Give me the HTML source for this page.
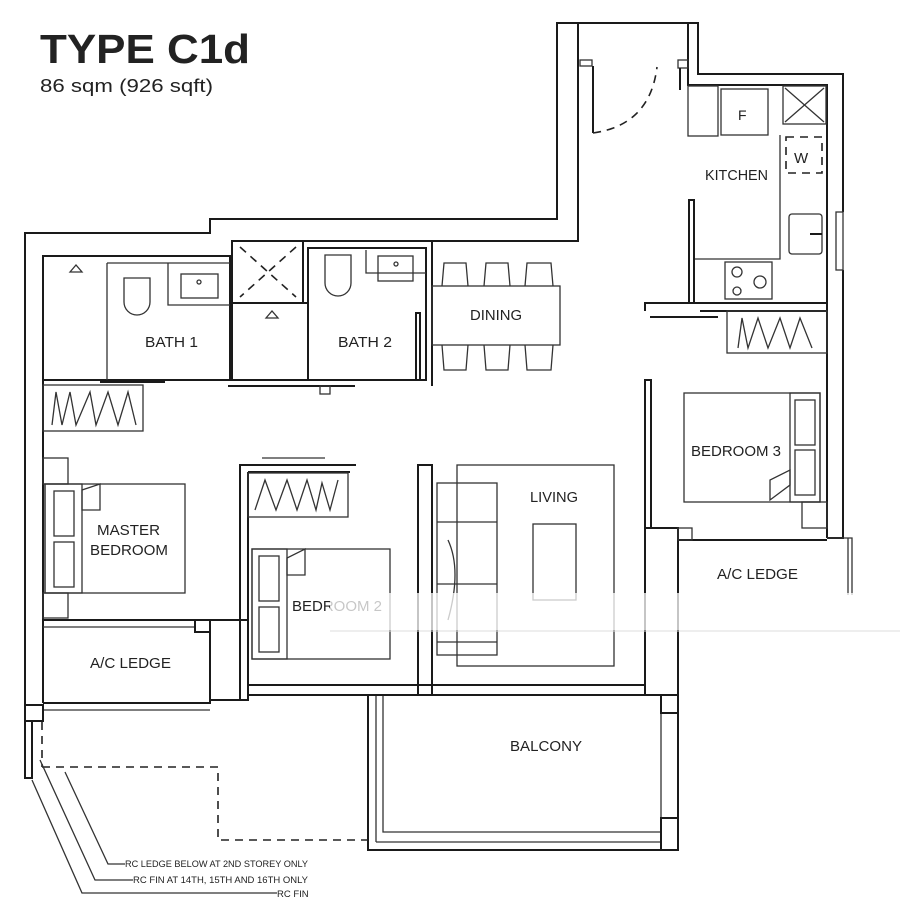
<!DOCTYPE html>
<html><head><meta charset="utf-8"><style>
html,body{margin:0;padding:0;background:#fff;}
svg{display:block}
.l{fill:none;stroke:#1a1a1a;stroke-width:2}
.t{fill:none;stroke:#333;stroke-width:1.3}
.d{fill:none;stroke:#222;stroke-width:1.6;stroke-dasharray:8 6}
text{font-family:"Liberation Sans",sans-serif;fill:#222}
.lb{font-size:15px}
.sm{font-size:9.5px}
</style></head><body>
<svg width="900" height="900" viewBox="0 0 900 900">
<text x="40" y="63" font-size="41" font-weight="bold" fill="#111" textLength="210" lengthAdjust="spacingAndGlyphs">TYPE C1d</text>
<text x="40" y="92" font-size="18" textLength="173" lengthAdjust="spacingAndGlyphs">86 sqm (926 sqft)</text>

<!-- outer walls -->
<polyline class="l" points="25,705 25,233 210,233 210,219 557,219 557,23 698,23 698,74 843,74 843,212"/>
<polyline class="l" points="43,703 43,256 232,256 232,241 578,241 578,23"/>
<polyline class="l" points="688,23 688,85 827,85 827,538"/>
<polyline class="l" points="843,270 843,538 827,538"/>
<rect class="t" x="836" y="212" width="7" height="58"/>
<!-- entrance door -->
<rect class="t" x="580" y="60" width="12" height="6"/>
<line class="l" x1="593" y1="66" x2="593" y2="133"/>
<path class="d" d="M593,133 Q650,125 657,67" stroke-dasharray="5 4"/>
<rect class="t" x="678" y="60" width="10" height="8"/>
<line class="l" x1="680" y1="68" x2="680" y2="90"/>
<!-- kitchen -->
<rect class="t" x="688" y="86" width="30" height="50"/>
<rect class="t" x="721" y="89" width="47" height="46"/>
<text x="738" y="120" font-size="14">F</text>
<rect class="t" x="783" y="86" width="43" height="38"/>
<line class="t" x1="785" y1="88" x2="824" y2="122"/><line class="t" x1="824" y1="88" x2="785" y2="122"/>
<rect class="d" x="786" y="137" width="36" height="36" stroke-width="1.3" stroke-dasharray="5 3"/>
<text x="794" y="163" class="lb">W</text>
<polyline class="t" points="780,135 780,259 695,259"/>
<rect class="t" x="789" y="214" width="33" height="40" rx="3"/>
<line class="l" x1="810" y1="234" x2="822" y2="234"/>
<rect class="t" x="725" y="262" width="47" height="37"/>
<circle class="t" cx="737" cy="272" r="5"/><circle class="t" cx="760" cy="282" r="6"/><circle class="t" cx="737" cy="291" r="4"/>
<text x="705" y="180" font-size="15" textLength="63" lengthAdjust="spacingAndGlyphs">KITCHEN</text>
<rect class="l" x="689" y="200" width="5" height="103"/>
<polyline class="l" points="645,311 645,303 827,303"/>
<line class="l" x1="700" y1="311" x2="827" y2="311"/>
<line class="l" x1="650" y1="317" x2="718" y2="317"/>
<!-- bedroom 3 -->
<rect class="t" x="727" y="311" width="100" height="42"/>
<polyline class="t" points="738,348 742,318 748,348 758,318 768,348 780,318 790,348 800,318 812,348"/>
<rect class="l" x="645" y="380" width="6" height="148"/>
<rect class="t" x="684" y="393" width="136" height="109"/>
<rect class="t" x="790" y="393" width="30" height="109"/>
<rect class="t" x="795" y="400" width="20" height="45"/><rect class="t" x="795" y="450" width="20" height="45"/>
<polygon class="t" points="770,500 770,480 790,470 790,485"/>
<rect class="t" x="802" y="502" width="25" height="26"/>
<text x="691" y="456" font-size="15" textLength="90" lengthAdjust="spacingAndGlyphs">BEDROOM 3</text>
<!-- ac ledge right -->
<polyline class="l" points="645,528 678,528 678,695 645,695 645,528"/>
<line class="l" x1="678" y1="540" x2="827" y2="540"/>
<rect class="t" x="678" y="528" width="14" height="12"/>
<polyline class="t" points="827,538 852,538 852,595"/>
<line class="t" x1="848" y1="538" x2="848" y2="595"/>
<text x="717" y="579" class="lb" textLength="81" lengthAdjust="spacingAndGlyphs">A/C LEDGE</text>
<!-- balcony -->
<polyline class="l" points="368,695 368,850 678,850 678,695"/>
<polyline class="t" points="383,695 383,832 661,832 661,712"/>
<line class="t" x1="376" y1="695" x2="376" y2="842"/>
<line class="t" x1="376" y1="842" x2="661" y2="842"/>
<rect class="l" x="661" y="695" width="17" height="18"/>
<rect class="l" x="661" y="818" width="17" height="32"/>
<text x="510" y="751" class="lb" textLength="72" lengthAdjust="spacingAndGlyphs">BALCONY</text>
<!-- bottom walls -->
<line class="l" x1="248" y1="685" x2="645" y2="685"/>
<line class="l" x1="248" y1="695" x2="645" y2="695"/>
<!-- living -->
<rect class="t" x="457" y="465" width="157" height="201"/>
<rect class="t" x="533" y="524" width="43" height="76"/>
<rect class="t" x="437" y="483" width="60" height="172"/>
<line class="t" x1="437" y1="522" x2="497" y2="522"/><line class="t" x1="437" y1="584" x2="497" y2="584"/><line class="t" x1="437" y1="642" x2="497" y2="642"/>
<path class="t" d="M448,540 Q462,570 448,620"/>
<rect class="l" x="418" y="465" width="14" height="230"/>
<text x="530" y="502" class="lb" textLength="48" lengthAdjust="spacingAndGlyphs">LIVING</text>
<!-- bedroom 2 -->
<polyline class="l" points="240,700 240,465 356,465"/>
<line class="l" x1="248" y1="472" x2="248" y2="700"/>
<line class="l" x1="248" y1="472" x2="350" y2="472"/>
<line class="t" x1="262" y1="458" x2="325" y2="458"/>
<rect class="t" x="248" y="473" width="100" height="44"/>
<polyline class="t" points="255,510 265,480 276,510 287,480 297,510 307,480 316,510 322,483 330,510 338,480"/>
<rect class="t" x="252" y="549" width="138" height="110"/>
<rect class="t" x="252" y="549" width="35" height="110"/>
<rect class="t" x="259" y="556" width="20" height="45"/><rect class="t" x="259" y="607" width="20" height="45"/>
<polygon class="t" points="287,575 287,558 305,549 305,575"/>
<text x="292" y="611" class="lb">BEDROOM 2</text>
<!-- master -->
<rect class="t" x="45" y="484" width="140" height="109"/>
<rect class="t" x="45" y="484" width="37" height="109"/>
<rect class="t" x="54" y="491" width="20" height="45"/><rect class="t" x="54" y="542" width="20" height="45"/>
<polygon class="t" points="82,510 82,490 100,484 100,510"/>
<rect class="t" x="43" y="458" width="25" height="26"/>
<rect class="t" x="43" y="593" width="25" height="25"/>
<text x="97" y="535" class="lb" textLength="63" lengthAdjust="spacingAndGlyphs">MASTER</text>
<text x="90" y="555" class="lb" textLength="78" lengthAdjust="spacingAndGlyphs">BEDROOM</text>
<rect class="t" x="43" y="385" width="100" height="46"/>
<polyline class="t" points="52,425 56,392 62,425 70,392 76,425 90,392 96,425 108,392 118,425 128,392 136,425"/>
<!-- ac ledge left -->
<line class="l" x1="43" y1="620" x2="210" y2="620"/>
<line class="t" x1="43" y1="627" x2="195" y2="627"/>
<rect class="l" x="195" y="620" width="15" height="12"/>
<rect class="l" x="210" y="620" width="38" height="80"/>
<polyline class="l" points="43,703 210,703 210,700"/>
<line class="t" x1="43" y1="710" x2="210" y2="710"/>
<text x="90" y="668" class="lb" textLength="81" lengthAdjust="spacingAndGlyphs">A/C LEDGE</text>
<!-- bath area -->
<rect class="l" x="43" y="256" width="187" height="124"/>
<line class="t" x1="107" y1="263" x2="107" y2="380"/>
<polyline class="t" points="107,263 230,263"/>
<polyline class="t" points="168,263 168,305 230,305"/>
<rect class="t" x="181" y="274" width="37" height="24"/><circle class="t" cx="199" cy="282" r="2"/>
<path class="t" d="M124,278 L150,278 L150,302 A13,13 0 0 1 124,302 Z"/>
<polygon class="t" points="70,272 76,265 82,272"/>
<line class="l" x1="100" y1="382" x2="165" y2="382" stroke-width="3.5"/>
<text x="145" y="347" class="lb" textLength="53" lengthAdjust="spacingAndGlyphs">BATH 1</text>
<rect class="l" x="232" y="241" width="71" height="62"/>
<line class="d" x1="240" y1="247" x2="296" y2="297" stroke-width="1.2" stroke-dasharray="6 5"/>
<line class="d" x1="296" y1="247" x2="240" y2="297" stroke-width="1.2" stroke-dasharray="6 5"/>
<rect class="l" x="232" y="303" width="76" height="77"/>
<polygon class="t" points="266,318 272,311 278,318"/>
<polyline class="l" points="228,386 355,386"/>
<rect class="l" x="308" y="248" width="118" height="132"/>
<path class="t" d="M325,255 L351,255 L351,283 A13,13 0 0 1 325,283 Z"/>
<polyline class="t" points="366,250 366,273 426,273"/>
<rect class="t" x="378" y="256" width="35" height="25"/><circle class="t" cx="396" cy="264" r="2"/>
<rect class="l" x="416" y="313" width="4" height="67"/>
<rect class="t" x="320" y="386" width="10" height="8"/>
<text x="338" y="347" class="lb" textLength="54" lengthAdjust="spacingAndGlyphs">BATH 2</text>
<line class="l" x1="432" y1="241" x2="432" y2="386"/>
<!-- dining -->
<rect class="t" x="432" y="286" width="128" height="59"/>
<path class="t" d="M442,286 L444,263 L466,263 L468,286 M484,286 L486,263 L508,263 L510,286 M525,286 L527,263 L551,263 L553,286 M442,345 L444,370 L466,370 L468,345 M484,345 L486,370 L508,370 L510,345 M525,345 L527,370 L551,370 L553,345"/>
<text x="470" y="320" class="lb" textLength="52" lengthAdjust="spacingAndGlyphs">DINING</text>
<!-- rc ledge dashed -->
<polyline class="d" points="42,767 218,767 218,840 368,840"/>
<line class="d" x1="42" y1="722" x2="42" y2="767"/>
<!-- left fin -->
<rect class="l" x="25" y="705" width="18" height="16"/>
<polyline class="l" points="25,721 25,778 32,778 32,721"/>
<polyline class="t" points="32,780 82,893 277,893"/>
<polyline class="t" points="40,760 95,880 133,880"/>
<polyline class="t" points="65,772 108,864 125,864"/>
<text x="125" y="867" class="sm" textLength="183" lengthAdjust="spacingAndGlyphs">RC LEDGE BELOW AT 2ND STOREY ONLY</text>
<text x="133" y="883" class="sm" textLength="175" lengthAdjust="spacingAndGlyphs">RC FIN AT 14TH, 15TH AND 16TH ONLY</text>
<text x="277" y="897" class="sm">RC FIN</text>
<!-- watermark band -->
<rect x="330" y="593" width="525" height="37" fill="#fff" opacity="0.75"/>
<line x1="330" y1="631" x2="900" y2="631" stroke="#ddd" stroke-width="1"/>
</svg>
</body></html>
